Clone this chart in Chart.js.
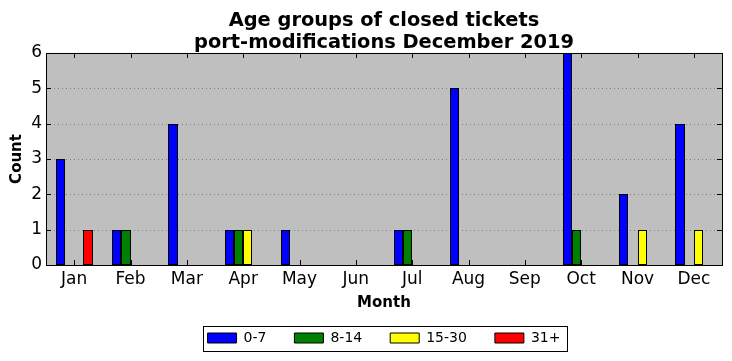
<!DOCTYPE html>
<html>
<head>
<meta charset="utf-8">
<script src="https://cdn.jsdelivr.net/npm/chart.js@4"></script>
<style>
  html, body { margin: 0; padding: 0; background: #fff; }
  #c { display: block; }
</style>
</head>
<body>
<canvas id="c" width="732" height="361"></canvas>
<script>
"use strict"
var months = ["Jan", "Feb", "Mar", "Apr", "May", "Jun", "Jul", "Aug", "Sep", "Oct", "Nov", "Dec"];
var age0to7 = [3, 1, 4, 1, 1, 0, 1, 5, 0, 6, 2, 4];
var age8to14 = [0, 1, 0, 1, 0, 0, 1, 0, 0, 1, 0, 0];
var age15to30 = [0, 0, 0, 1, 0, 0, 0, 0, 0, 0, 1, 1];
var age31plus = [1, 0, 0, 0, 0, 0, 0, 0, 0, 0, 0, 0];
var yTicks = [0, 1, 2, 3, 4, 5, 6];

var font = "'DejaVu Sans', sans-serif";

function series(label, data, color) {
    return {
        label: label,
        data: data,
        backgroundColor: color,
        borderColor: '#000',
        borderWidth: 1,
        borderSkipped: false,
        inflateAmount: 0,
        categoryPercentage: 0.66,
        barPercentage: 1.0
    };
}

// matplotlib classic look: grey axes, dotted y grid, frame, inward ticks, boxed legend
var classicFrame = {
    id: 'classicFrame',
    afterDatasetsUpdate: function(chart) {
        // snap bars to whole pixels so the 1px edges stay crisp
        chart.data.datasets.forEach(function(ds, i) {
            chart.getDatasetMeta(i).data.forEach(function(bar) {
                var l = Math.round(bar.x - bar.width / 2);
                var r = Math.round(bar.x + bar.width / 2);
                bar.x = (l + r) / 2;
                bar.width = r - l;
                bar.y = Math.round(bar.y);
                bar.base = Math.round(bar.base);
            });
        });
    },
    beforeDraw: function(chart) {
        var ctx = chart.ctx, a = chart.chartArea;
        ctx.save();
        ctx.fillStyle = '#fff';
        ctx.fillRect(0, 0, chart.width, chart.height);
        ctx.fillStyle = '#bfbfbf';
        ctx.fillRect(a.left, a.top, a.right - a.left, a.bottom - a.top);
        ctx.restore();
    },
    beforeDatasetsDraw: function(chart) {
        var ctx = chart.ctx, a = chart.chartArea, y = chart.scales.y;
        ctx.save();
        ctx.strokeStyle = '#808080';
        ctx.lineWidth = 1;
        ctx.setLineDash([1, 3]);
        yTicks.forEach(function(v) {
            if (v === 0 || v === 6) return;
            var py = Math.round(y.getPixelForValue(v)) + 0.5;
            ctx.beginPath();
            ctx.moveTo(a.left, py);
            ctx.lineTo(a.right, py);
            ctx.stroke();
        });
        ctx.restore();
    },
    afterDatasetsDraw: function(chart) {
        var ctx = chart.ctx, a = chart.chartArea, x = chart.scales.x, y = chart.scales.y;
        ctx.save();
        ctx.strokeStyle = '#000';
        ctx.lineWidth = 1;
        ctx.beginPath();
        months.forEach(function(m, i) {
            var px = Math.round(x.getPixelForValue(i)) + 0.5;
            ctx.moveTo(px, a.bottom);
            ctx.lineTo(px, a.bottom - 5);
            ctx.moveTo(px, a.top);
            ctx.lineTo(px, a.top + 5);
        });
        yTicks.forEach(function(v) {
            var py = Math.round(y.getPixelForValue(v)) + 0.5;
            ctx.moveTo(a.left, py);
            ctx.lineTo(a.left + 5, py);
            ctx.moveTo(a.right, py);
            ctx.lineTo(a.right - 5, py);
        });
        ctx.stroke();
        ctx.strokeRect(Math.round(a.left) + 0.5, Math.round(a.top) + 0.5,
            Math.round(a.right - a.left), Math.round(a.bottom - a.top));
        ctx.restore();
    },
    afterDraw: function(chart) {
        var boxes = chart.legend.legendHitBoxes;
        if (!boxes || !boxes.length) return;
        var l = Infinity, r = -Infinity, t = Infinity, b = -Infinity;
        boxes.forEach(function(h) {
            l = Math.min(l, h.left);
            r = Math.max(r, h.left + h.width);
            t = Math.min(t, h.top);
            b = Math.max(b, h.top + h.height);
        });
        var ctx = chart.ctx;
        ctx.save();
        ctx.strokeStyle = '#000';
        ctx.lineWidth = 1;
        ctx.strokeRect(Math.round(l - 5) + 0.5, Math.round(t - 5) + 0.5,
            Math.round(r - l + 11), Math.round(b - t + 11));
        ctx.restore();
    }
};

new Chart(document.getElementById('c'), {
    type: 'bar',
    data: {
        labels: months,
        datasets: [
            series('0-7', age0to7, '#0000ff'),
            series('8-14', age8to14, '#008000'),
            series('15-30', age15to30, '#ffff00'),
            series('31+', age31plus, '#ff0000')
        ]
    },
    plugins: [classicFrame],
    options: {
        responsive: false,
        devicePixelRatio: 1,
        animation: false,
        layout: { padding: { left: 0, right: 10, top: 4, bottom: 6 } },
        scales: {
            x: {
                grid: { display: false, drawTicks: false },
                border: { display: false },
                ticks: { color: '#000', font: { family: font, size: 17 }, padding: 4, maxRotation: 0 },
                title: { display: true, text: 'Month', color: '#000', font: { family: font, size: 15, weight: 'bold' }, padding: { top: 0, bottom: -9 } },
                afterFit: function(scale) { scale.height = 38; }
            },
            y: {
                min: 0,
                max: 6,
                grid: { display: false, drawTicks: false },
                border: { display: false },
                ticks: { color: '#000', font: { family: font, size: 17 }, padding: 4, stepSize: 1 },
                title: { display: true, text: 'Count', color: '#000', font: { family: font, size: 15, weight: 'bold' }, padding: { top: 8.5, bottom: 6 } },
                afterFit: function(scale) { scale.width = 46; }
            }
        },
        plugins: {
            title: {
                display: true,
                fullSize: false,
                text: ['Age groups of closed tickets', 'port-modifications December 2019'],
                color: '#000',
                font: { family: font, size: 19.4, weight: 'bold', lineHeight: 1.15 },
                padding: { top: 5.8, bottom: -1.5 }
            },
            legend: {
                position: 'bottom',
                fullSize: false,
                labels: {
                    color: '#000',
                    boxWidth: 29,
                    boxHeight: 10,
                    padding: 28,
                    font: { family: font, size: 14 }
                }
            },
            tooltip: { enabled: false }
        }
    }
});
</script>
</body>
</html>
